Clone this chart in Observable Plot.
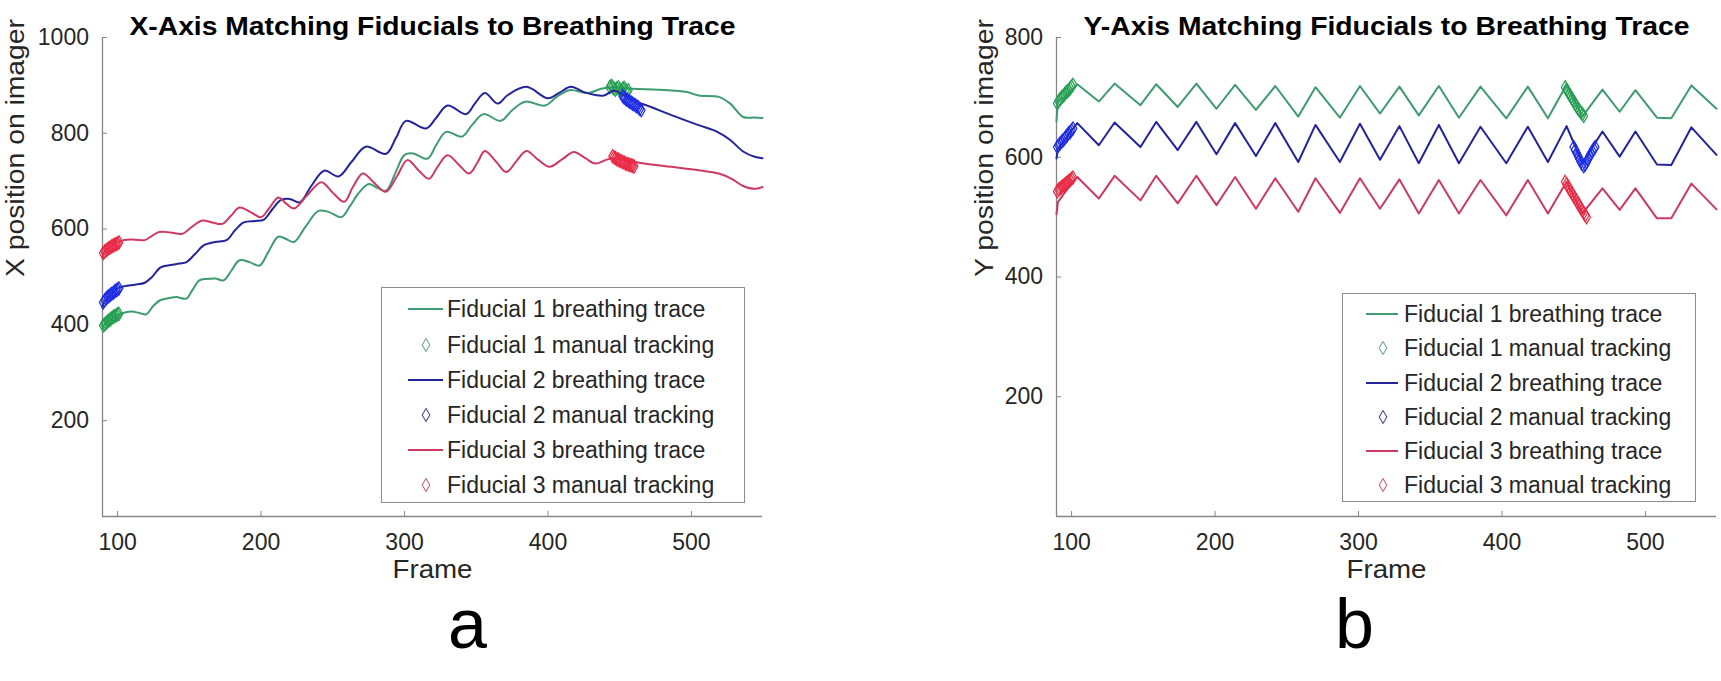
<!DOCTYPE html>
<html><head><meta charset="utf-8">
<script src="https://cdn.jsdelivr.net/npm/d3@7"></script>
<script src="https://cdn.jsdelivr.net/npm/@observablehq/plot@0.6"></script>
<style>
html,body{margin:0;padding:0;background:#fff;}
#root{position:relative;width:1721px;height:681px;overflow:hidden;background:#fff;font-family:"Liberation Sans",Arial,sans-serif;}
.panel{position:absolute;top:0;}
.legend{position:absolute;background:#fff;border:1px solid #8c8c8c;box-sizing:border-box;}
.legend .sw{position:absolute;}
.legend .lt{position:absolute;font-size:23px;line-height:30px;height:30px;white-space:nowrap;color:#262626;}
</style></head><body><div id="root"></div>
<script>
// ---------- data ----------
const frameTicks = [100, 200, 300, 400, 500];
const xPosTicks = [200, 400, 600, 800, 1000];
const yPosTicks = [200, 400, 600, 800];
const seriesNames = ["Fiducial 1", "Fiducial 2", "Fiducial 3"];
const legendLabels = [
  "Fiducial 1 breathing trace", "Fiducial 1 manual tracking",
  "Fiducial 2 breathing trace", "Fiducial 2 manual tracking",
  "Fiducial 3 breathing trace", "Fiducial 3 manual tracking"
];

// X position breathing traces [frame, value]
const xTraceF1 = [[89.5,392],[91,401],[95,411],[100,421],[105,426],[110,428],[115,425],[120,422],[125,440],[130,452],[136,456],[141,458],[148,455],[152,472],[157,493],[162,496],[168,497],[174,493],[179,512],[185,535],[192,531],[199,524],[205,552],[212,584],[217,580],[223,573],[231,605],[240,638],[247,636],[256,625],[262,648],[268,675],[275,694],[281,686],[287,680],[294,720],[300,755],[306,758],[316,747],[322,775],[329,803],[340,793],[347,817],[355,840],[367,826],[375,848],[384,866],[398,858],[406,876],[415,890],[428,884],[437,893],[446,896],[459,893],[478,891],[497,886],[505,879],[519,876],[527,862],[536,834],[544,833],[549.5,832]];
const xTraceF2 = [[89.5,436],[91,449],[95,462],[100,476],[105,481],[112,484],[119,488],[124,500],[130,520],[137,525],[143,528],[148,531],[154,548],[160,566],[168,573],[176,577],[182,598],[188,614],[196,617],[202,620],[208,642],[214,661],[220,663],[227,656],[235,690],[244,722],[254,710],[263,740],[273,772],[287,757],[294,790],[301,826],[315,810],[322,832],[330,858],[343,840],[349,862],[356,884],[365,862],[372,880],[385,897],[400,873],[408,885],[416,897],[425,886],[433,880],[439,879],[446,889],[452,881],[459,868],[468,859],[486,838],[505,817],[518,803],[527,786],[536,762],[544,751],[549.5,748]];
const xTraceF3 = [[89.5,540],[91,552],[95,562],[100,572],[104,577],[112,578],[119,577],[124,586],[129,594],[137,593],[145,590],[152,605],[159,618],[166,614],[173,611],[179,628],[185,645],[193,635],[200,625],[206,645],[212,666],[218,652],[223,643],[232,670],[242,698],[250,676],[258,657],[264,688],[271,716],[279,696],[287,678],[295,712],[302,744],[310,722],[317,705],[323,730],[330,754],[338,734],[345,716],[351,740],[356,763],[364,740],[371,719],[378,742],[385,763],[393,745],[401,730],[410,746],[418,761],[426,748],[433,737],[440,744],[445,748],[455,743],[467,737],[486,730],[505,723],[519,716],[528,705],[536,690],[544,684],[549.5,688]];

// X position manual tracking [frame, value]
const xManualF1 = [[90,399],[91,401],[92,404],[93,407],[94,409],[95,412],[96,414],[97,417],[98,418],[99,420],[100,422],[101,423],[443,896],[444,899],[445,897],[446,893],[447,891],[448,894],[449,896],[450,892],[451,889],[452,893],[453,895],[454,891],[455,888],[456,890]];
const xManualF2 = [[90,447],[91,451],[92,455],[93,458],[94,460],[95,463],[96,465],[97,467],[98,470],[99,472],[100,474],[101,476],[452,878],[453,875],[454,872],[455,870],[456,868],[457,866],[458,864],[459,862],[460,860],[461,858],[462,856],[463,854],[464,851],[465,848]];
const xManualF3 = [[90,550],[91,553],[92,556],[93,558],[94,560],[95,562],[96,564],[97,566],[98,567],[99,569],[100,570],[101,572],[445,752],[446,750],[447,748],[448,746],[449,745],[450,743],[451,742],[452,740],[453,739],[454,737],[455,736],[456,735],[457,734],[458,733],[459,732],[460,731]];

// Y position breathing traces [frame, value]
const yTraceF1 = [[89.5,660],[90.5,695],[95,700],[100,712],[104,722],[119,693],[130,723],[148,687],[159,722],[174,684],[187,723],[201,681],[214,721],[228.5,679],[242,719],[258,668],[270,717],[287,666],[301,719],[315,673],[328.5,718],[342,670],[356,719],[370,666],[385,718],[403,665],[418,718],[432,665],[445,721],[456,668],[470,713],[482,676],[493,712],[508,666],[518,665],[532,720],[549.5,681]];
const yTraceF2 = [[89.5,598],[90.5,615],[95,628],[100,645],[104,657],[119,620],[130,658],[148,617],[159,659],[174,612],[187,659],[201,605],[214,657],[228.5,602],[242,657],[258,592],[270,654],[287,592],[301,656],[315,596],[328.5,652],[342,590],[356,654],[370,590],[385,651],[403,590],[418,651],[432,592],[445,652],[456,590],[470,643],[482,601],[493,643],[508,588],[518,587],[532,650],[549.5,604]];
const yTraceF3 = [[89.5,505],[90.5,525],[95,540],[100,556],[104,567],[119,531],[130,569],[148,528],[159,569],[174,523],[187,569],[201,520],[214,567],[228.5,514],[242,565],[258,509],[270,565],[287,507],[301,565],[315,514],[328.5,563],[342,506],[356,562],[370,506],[385,562],[403,503],[418,562],[432,506],[445,559],[456,506],[470,548],[482,512],[493,548],[508,498],[518,498],[532,556],[549.5,513]];

// Y position manual tracking [frame, value]
const yManualF1 = [[90,690],[91,694],[92,697],[93,700],[94,702],[95,705],[96,708],[97,710],[98,712],[99,715],[100,718],[101,721],[444,717],[445,713],[446,709],[447,705],[448,701],[449,697],[450,693],[451,689],[452,685],[453,681],[454,678],[455,675],[456,672],[457,669]];
const yManualF2 = [[90,617],[91,620],[92,623],[93,626],[94,628],[95,631],[96,634],[97,637],[98,640],[99,642],[100,645],[101,648],[450,617],[451,612],[452,607],[453,602],[454,597],[455,592],[456,588],[457,585],[458,588],[459,592],[460,597],[461,602],[462,606],[463,610],[464,614],[465,617]];
const yManualF3 = [[90,543],[91,546],[92,548],[93,550],[94,552],[95,554],[96,556],[97,558],[98,560],[99,562],[100,564],[101,566],[444,559],[445,555],[446,551],[447,547],[448,543],[449,539],[450,535],[451,531],[452,527],[453,523],[454,519],[455,515],[456,511],[457,507],[458,503],[459,500]];

// ---------- style ----------
const frameDomain = [89.5, 549.5];
const traceColors = ["#3f9b70", "#23239c", "#cc3a62"];
const markerColors = ["#26a052", "#1f2ee6", "#ea2a44"];
const legendMarkerColors = ["#74a88e", "#4a4a94", "#c46482"];
const axisGray = "#868686";
const textColor = "#262626";

function panel(o) {
  const marks = [
    Plot.ruleX([frameDomain[0]], {stroke: axisGray, strokeWidth: 1.3}),
    Plot.ruleY([o.yDomain[0]], {stroke: axisGray, strokeWidth: 1.3}),
    Plot.axisX(frameTicks, {anchor: "bottom", tickSize: -5, tickPadding: 22.5, tickFormat: d => String(d), stroke: axisGray, fill: textColor, fontSize: 23, label: null}),
    Plot.axisY(o.yTicks, {anchor: "left", tickSize: -5, tickPadding: 18.5, tickFormat: d => String(d), stroke: axisGray, fill: textColor, fontSize: 23, label: null})
  ];
  o.traces.forEach((t, i) => {
    marks.push(Plot.line(t, {x: d => d[0], y: d => d[1], stroke: traceColors[i], strokeWidth: 2, strokeLinejoin: "round", curve: o.curve}));
    marks.push(Plot.dot(o.manual[i], {x: d => d[0], y: d => d[1], symbol: "diamond", r: 4, stroke: markerColors[i], strokeWidth: 1.2, fill: "none"}));
  });
  marks.push(
    Plot.text([o.title], {text: d => d, frameAnchor: "top", dy: -21, fontSize: 25.5, fontWeight: "bold", fill: "#000"}),
    Plot.text([o.xLabel], {text: d => d, frameAnchor: "bottom", dy: 61, fontSize: 25.5, fill: textColor}),
    Plot.text([o.yLabel], {text: d => d, frameAnchor: "left", dx: o.yLabelX - o.marginLeft, rotate: -90, fontSize: 25.5, fill: textColor}),
    Plot.text([o.letter], {text: d => d, frameAnchor: "bottom", dx: o.letterDx, dy: 670 - 22.4 - 516, fontSize: 70, fontFamily: '"Liberation Sans", Arial, sans-serif', fill: "#000"})
  );
  const svg = Plot.plot({
    width: o.width, height: 681,
    marginLeft: o.marginLeft, marginRight: o.marginRight, marginTop: 37, marginBottom: 165,
    x: {domain: frameDomain},
    y: {domain: o.yDomain},
    style: {fontFamily: '"Liberation Sans", Arial, sans-serif', fontSize: "23px", color: textColor, background: "transparent", overflow: "visible"},
    marks
  });
  svg.classList.add("panel");
  svg.style.left = o.left + "px";
  const stretch = {[o.title]: o.titleLength, [o.xLabel]: o.xLabelLength, [o.yLabel]: o.yLabelLength};
  d3.select(svg).selectAll("text").each(function() {
    const len = stretch[this.textContent];
    if (len) d3.select(this).attr("textLength", len).attr("lengthAdjust", "spacingAndGlyphs");
  });
  return svg;
}

function legend(o) {
  const div = document.createElement("div");
  div.className = "legend";
  Object.assign(div.style, {left: o.left + "px", top: o.top + "px", width: o.width + "px", height: o.height + "px"});
  legendLabels.forEach((label, k) => {
    const i = Math.floor(k / 2), isLine = k % 2 === 0;
    const cy = o.rows[k];
    const sw = document.createElementNS("http://www.w3.org/2000/svg", "svg");
    sw.setAttribute("class", "sw");
    sw.setAttribute("width", 40); sw.setAttribute("height", 20);
    sw.style.left = (o.lineX0 - 2) + "px"; sw.style.top = (cy - 10) + "px";
    const w = o.lineX1 - o.lineX0;
    if (isLine) {
      sw.innerHTML = `<line x1="2" x2="${2 + w}" y1="10" y2="10" stroke="${traceColors[i]}" stroke-width="2"/>`;
    } else {
      const cx = o.diamondX - o.lineX0 + 2;
      sw.innerHTML = `<path d="M${cx},3.5L${cx + 3.8},10L${cx},16.5L${cx - 3.8},10Z" fill="none" stroke="${legendMarkerColors[i]}" stroke-width="1.1"/>`;
    }
    div.appendChild(sw);
    const t = document.createElement("div");
    t.className = "lt";
    t.textContent = label;
    t.style.left = o.textX + "px"; t.style.top = (cy - 15) + "px";
    div.appendChild(t);
  });
  return div;
}

const root = document.getElementById("root");
root.appendChild(panel({
  left: 0, width: 860, marginLeft: 102, marginRight: 98,
  yDomain: [0, 1000], yTicks: xPosTicks, curve: "catmull-rom",
  traces: [xTraceF1, xTraceF2, xTraceF3], manual: [xManualF1, xManualF2, xManualF3],
  title: "X-Axis Matching Fiducials to Breathing Trace", titleLength: 606,
  xLabel: "Frame", xLabelLength: 80,
  yLabel: "X position on imager", yLabelLength: 258, yLabelX: 15,
  letter: "a", letterDx: 35
}));
root.appendChild(panel({
  left: 860, width: 861, marginLeft: 196, marginRight: 5,
  yDomain: [0, 800], yTicks: yPosTicks, curve: "linear",
  traces: [yTraceF1, yTraceF2, yTraceF3], manual: [yManualF1, yManualF2, yManualF3],
  title: "Y-Axis Matching Fiducials to Breathing Trace", titleLength: 606,
  xLabel: "Frame", xLabelLength: 80,
  yLabel: "Y position on imager", yLabelLength: 258, yLabelX: 124,
  letter: "b", letterDx: -32
}));
root.appendChild(legend({left: 381, top: 287, width: 364, height: 216, rows: [21, 57, 92, 127, 162, 197], lineX0: 26, lineX1: 61, diamondX: 44, textX: 65}));
root.appendChild(legend({left: 1342, top: 293, width: 354, height: 209, rows: [20, 54, 89, 123, 157, 191], lineX0: 23, lineX1: 55, diamondX: 40, textX: 61}));
</script></body></html>
